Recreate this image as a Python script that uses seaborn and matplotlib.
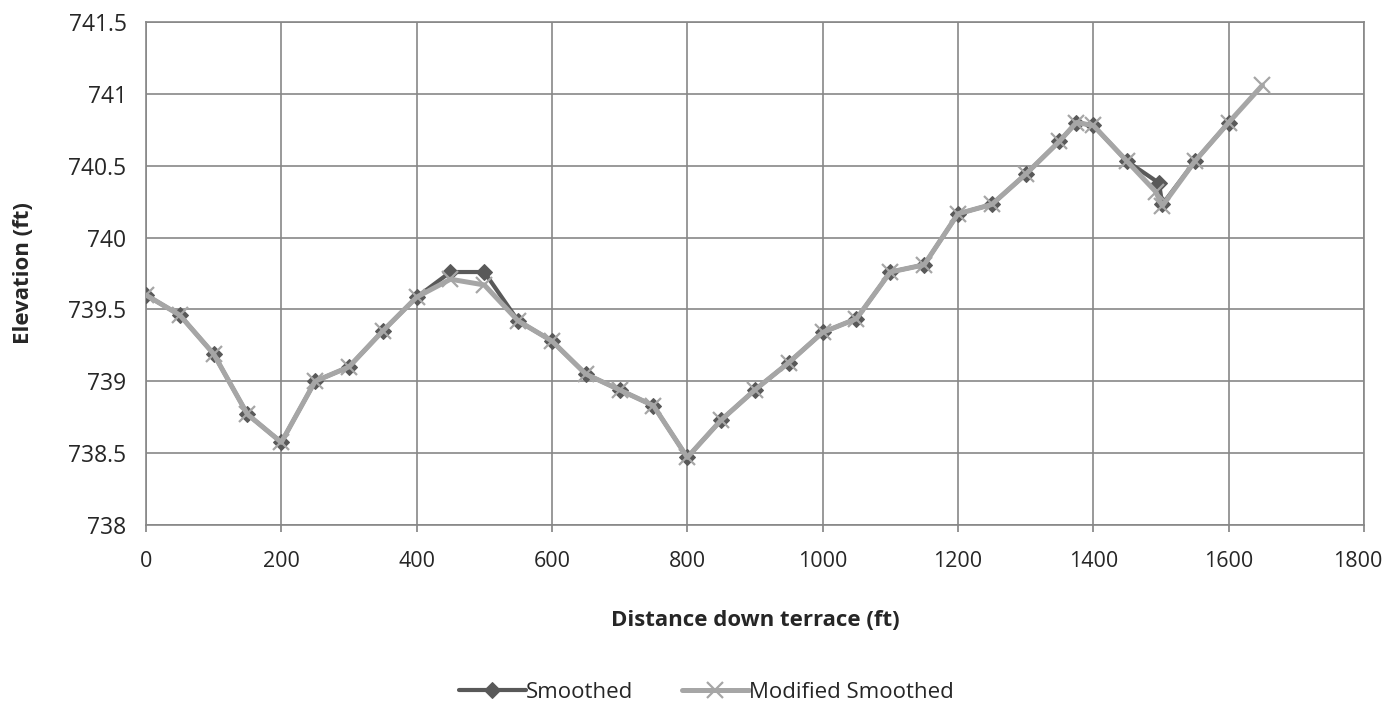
import matplotlib
matplotlib.use("Agg")
import matplotlib.pyplot as plt
import matplotlib.transforms as mtransforms
import seaborn as sns
import pandas as pd

smoothed_x = [0, 50, 100, 150, 200, 250, 300, 350, 400, 450, 500, 550, 600, 650, 700, 750, 800,
              850, 900, 950, 1000, 1050, 1100, 1150, 1200, 1250, 1300, 1350, 1375, 1400, 1450,
              1497, 1502, 1550, 1600]
smoothed_y = [739.60, 739.46, 739.19, 738.77, 738.575, 739.00, 739.10, 739.35, 739.585, 739.76,
              739.76, 739.42, 739.28, 739.05, 738.94, 738.83, 738.47, 738.73, 738.94, 739.13,
              739.34, 739.435, 739.76, 739.81, 740.165, 740.23, 740.44, 740.67, 740.80, 740.78,
              740.53, 740.38, 740.23, 740.53, 740.80]

modified_x = [0, 50, 100, 150, 200, 250, 300, 350, 400, 450, 500, 550, 600, 650, 700, 750, 800,
              850, 900, 950, 1000, 1050, 1100, 1150, 1200, 1250, 1300, 1350, 1375, 1400, 1450,
              1492, 1502, 1550, 1600, 1650]
modified_y = [739.60, 739.46, 739.19, 738.77, 738.575, 739.00, 739.10, 739.35, 739.585, 739.71,
              739.67, 739.42, 739.28, 739.05, 738.94, 738.83, 738.47, 738.73, 738.94, 739.13,
              739.34, 739.435, 739.76, 739.81, 740.165, 740.23, 740.44, 740.67, 740.80, 740.78,
              740.53, 740.32, 740.22, 740.53, 740.80, 741.06]

x_ticks = [0, 200, 400, 600, 800, 1000, 1200, 1400, 1600, 1800]
y_ticks = [738, 738.5, 739, 739.5, 740, 740.5, 741, 741.5]
y_tick_labels = ["738", "738.5", "739", "739.5", "740", "740.5", "741", "741.5"]

sns.set_theme(style="white")
plt.rcParams['font.family'] = ['Open Sans', 'DejaVu Sans']

fig = plt.figure(figsize=(13.85, 7.08), dpi=100)
ax = fig.add_axes([0.1054, 0.2585, 0.8794, 0.7105])

df_s = pd.DataFrame({"x": smoothed_x, "y": smoothed_y})
df_m = pd.DataFrame({"x": modified_x, "y": modified_y})

sns.lineplot(data=df_s, x="x", y="y", ax=ax, sort=False, color="#595959", linewidth=3.0,
             marker="D", markersize=8, markeredgecolor="#595959", markerfacecolor="#595959",
             label="Smoothed", zorder=3)
sns.lineplot(data=df_m, x="x", y="y", ax=ax, sort=False, color="#A6A6A6", linewidth=3.6,
             marker="x", markersize=11, markeredgewidth=1.6, markeredgecolor="#A6A6A6",
             label="Modified Smoothed", zorder=4)

ax.set_xlim(0, 1800)
ax.set_ylim(738, 741.5)
ax.set_xticks(x_ticks)
ax.set_xticklabels([str(v) for v in x_ticks])
ax.set_yticks(y_ticks)
ax.set_yticklabels(y_tick_labels)

ax.grid(True, color="#878787", linewidth=1.2)
ax.set_axisbelow(True)
for s in ax.spines.values():
    s.set_color("#878787")
    s.set_linewidth(1.2)

fs = 16.5
ax.tick_params(axis="x", length=5, color="#878787", labelsize=15.5, pad=14, direction="out",
               bottom=True)
ax.tick_params(axis="y", length=0, labelsize=fs, pad=14)

# keep the last x tick label inside the canvas
last = ax.get_xticklabels()[-1]
last.set_transform(last.get_transform() +
                   mtransforms.ScaledTranslation(-6 / 100, 0, fig.dpi_scale_trans))

ax.set_xlabel("Distance down terrace (ft)", fontsize=fs - 0.5, fontweight="bold", labelpad=27)
ax.set_ylabel("Elevation (ft)", fontsize=fs - 0.5, fontweight="bold", labelpad=25)

ax.legend(loc="upper center", bbox_to_anchor=(0.46, -0.272), ncol=2, frameon=False,
          fontsize=fs - 0.5, handlelength=3.0, handletextpad=0.0, columnspacing=2.2)

fig.savefig("out.png", dpi=100)
